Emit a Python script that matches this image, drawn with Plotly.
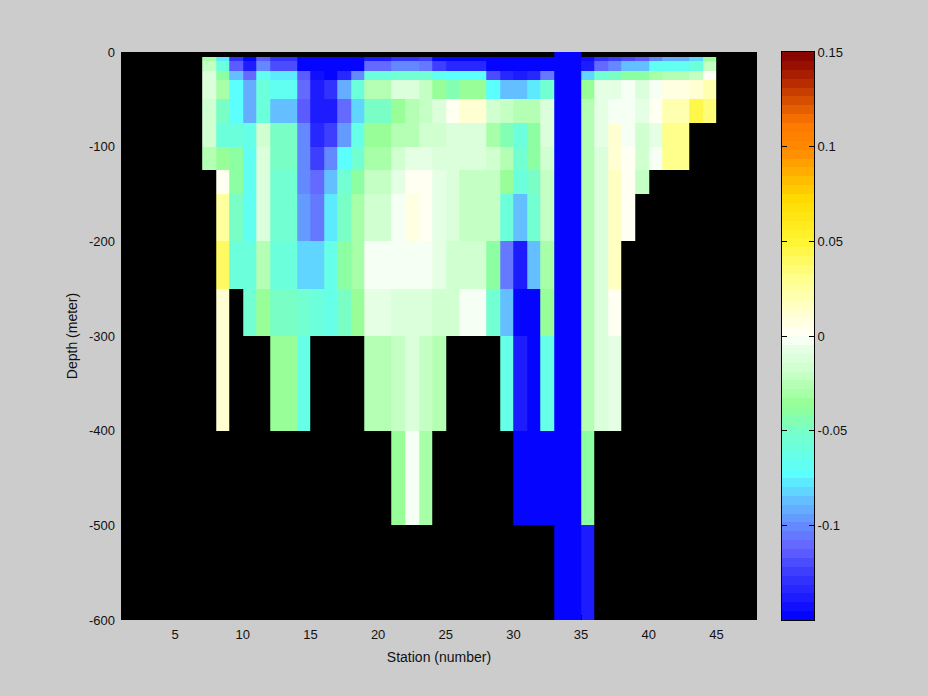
import plotly.graph_objects as go
import numpy as np

N = None
B = -0.15
station_edges = list(range(7, 46))
depth_edges = [0, -5, -10, -20, -30, -50, -75, -100, -125, -150, -200, -250, -300, -400, -500, -600]

# each row: stations 7 .. 44
row_0_5 = [N]*26 + [B, B] + [N]*10
row_5_10 = [-.03,-.078,-.13,-.148,-.115,-.13,-.13,B,B,B,B,B,-.138,-.138,-.13,-.13,-.125,-.148,B,B,B,B,B,B,B,B,B,B,-.145,-.13,-.125,-.118,-.115,-.1,-.09,-.09,-.08,-.036]
row_10_20 = [-.02,-.058,-.115,-.14,-.1,-.12,-.12,B,B,B,B,B,-.11,-.11,-.1,-.1,-.105,-.125,-.135,-.135,-.135,B,B,B,B,B,B,B,-.14,-.11,-.1,-.088,-.088,-.07,-.066,-.066,-.058,-.022]
row_20_30 = [-.01,-.04,-.088,-.11,-.07,-.076,-.076,-.115,-.145,B,-.135,-.1,-.058,-.058,-.052,-.052,-.055,-.07,-.073,-.073,-.073,-.12,-.135,-.14,-.135,-.105,B,B,-.08,-.052,-.048,-.042,-.042,-.03,-.024,-.024,-.02,0]
row_30_50 = [-.01,-.03,-.072,-.09,-.06,-.07,-.07,-.11,-.14,-.128,-.09,-.06,-.028,-.028,-.01,-.01,-.02,-.036,-.045,-.036,-.036,-.072,-.085,-.085,-.077,-.055,B,B,-.033,-.006,-.006,-.002,-.012,-.002,.006,.006,.01,.02]
row_50_75 = [-.015,-.048,-.072,-.09,-.058,-.085,-.085,-.115,-.14,-.14,-.11,-.08,-.048,-.048,-.034,-.025,-.021,-.012,.003,.014,.014,-.017,-.021,-.025,-.025,-.014,B,B,-.024,-.006,-.002,-.002,-.006,.001,.02,.02,.043,.035]
row_75_100 = [-.015,-.06,-.06,-.065,-.018,-.048,-.048,-.1,-.135,-.122,-.097,-.065,-.034,-.034,-.028,-.024,-.016,-.016,-.012,-.012,-.012,-.03,-.043,-.057,-.042,-.012,B,B,-.024,-.006,.01,-.002,-.015,-.006,.03,.03,N,N]
row_100_125 = [-.027,-.033,-.04,-.066,-.01,-.05,-.05,-.1,-.125,-.103,-.073,-.055,-.032,-.032,-.018,-.008,-.008,-.01,-.012,-.01,-.01,-.018,-.028,-.055,-.042,-.018,B,B,-.024,-.012,.012,.002,-.015,-.002,.03,.03,N,N]
row_125_150 = [N,.002,-.04,-.07,-.013,-.055,-.055,-.1,-.11,-.087,-.052,-.04,-.022,-.022,-.005,.002,.001,-.007,-.012,-.02,-.02,-.02,-.036,-.06,-.048,-.02,B,B,-.024,-.012,.016,.002,-.022,N,N,N,N,N]
row_150_200 = [N,.028,-.047,-.07,-.013,-.056,-.056,-.095,-.105,-.077,-.048,-.03,-.016,-.016,-.002,.006,.002,-.007,-.012,-.02,-.02,-.02,-.057,-.085,-.054,-.023,B,B,-.025,-.012,.017,.002,N,N,N,N,N,N]
row_200_250 = [N,.042,-.06,-.06,-.028,-.058,-.058,-.08,-.083,-.065,-.04,-.03,-.002,-.002,-.002,-.002,-.002,-.006,-.016,-.016,-.016,-.04,-.105,-.14,-.085,-.03,B,B,-.025,-.012,.017,N,N,N,N,N,N,N]
row_250_300 = [N,.011,N,-.056,-.036,-.05,-.05,-.053,-.057,-.062,-.05,-.034,-.008,-.008,-.012,-.012,-.012,-.016,-.016,-.002,-.002,-.055,-.085,B,B,-.037,B,B,-.025,-.012,.004,N,N,N,N,N,N,N]
row_300_400 = [N,.011,N,N,N,-.033,-.033,-.063,N,N,N,N,-.028,-.028,-.021,-.012,-.02,-.028,N,N,N,N,-.065,-.14,B,-.065,B,B,-.028,-.012,-.007,N,N,N,N,N,N,N]
row_400_500 = [N]*14 + [-.035,-.002,-.03] + [N]*6 + [B,B,B,B,B,-.042] + [N]*9
row_500_600 = [N]*26 + [B,B,-.14] + [N]*9

cmap_values = [-.15,-.125,-.112,-.1,-.087,-.073,-.05,-.036,-.02,-.007,0,.015,.033,.05,.072,.098,.112,.121,.138,.15]
cmap_r = [0,60,100,100,100,90,120,150,200,230,255,255,255,255,255,255,255,225,170,128]
cmap_g = [0,60,100,140,190,255,255,255,255,255,255,255,255,245,220,140,120,90,30,0]
cmap_b = [255,255,255,255,255,255,200,150,200,230,250,200,130,50,0,0,0,0,0,0]
n_levels = 64
zmin, zmax = -0.15, 0.15
y_ticks = [0, -100, -200, -300, -400, -500, -600]
y_labels = ["0", "-100", "-200", "-300", "-400", "-500", "-600"]
x_ticks = [5, 10, 15, 20, 25, 30, 35, 40, 45]
cbar_ticks = [-0.1, -0.05, 0, 0.05, 0.1, 0.15]
cbar_labels = ["-0.1", "-0.05", "0", "0.05", "0.1", "0.15"]

rows = [row_0_5, row_5_10, row_10_20, row_20_30, row_30_50, row_50_75, row_75_100, row_100_125,
        row_125_150, row_150_200, row_200_250, row_250_300, row_300_400, row_400_500, row_500_600]

level_edges = np.linspace(zmin, zmax, n_levels + 1)
centres = (level_edges[:-1] + level_edges[1:]) / 2
scale = []
for i, v in enumerate(centres):
    c = "rgb(%d,%d,%d)" % (np.interp(v, cmap_values, cmap_r), np.interp(v, cmap_values, cmap_g), np.interp(v, cmap_values, cmap_b))
    scale += [[i / n_levels, c], [(i + 1) / n_levels, c]]

GREY = "#cccccc"
FONT = dict(family="Liberation Sans, Arial, sans-serif", size=12, color="#111111")
TICK_FONT = dict(family="Liberation Sans, Arial, sans-serif", size=13, color="#111111")
W, H = 928, 696

fig = go.Figure()
fig.add_trace(go.Heatmap(x=station_edges, y=depth_edges, z=rows, coloraxis="coloraxis", hoverongaps=False))
fig.add_trace(go.Heatmap(x=[0, 1], y=level_edges.tolist(), z=[[v] for v in centres.tolist()],
                         coloraxis="coloraxis", xaxis="x2", yaxis="y2"))
fig.update_layout(
    width=W, height=H, margin=dict(l=0, r=0, t=0, b=0, autoexpand=False), paper_bgcolor=GREY, plot_bgcolor="black",
    font=FONT, showlegend=False,
    coloraxis=dict(colorscale=scale, cmin=zmin, cmax=zmax, showscale=False),
    xaxis=dict(domain=[121 / W, 757 / W], range=[1, 48], tickvals=x_ticks, ticks="inside", ticklen=5,
               tickcolor="black", showgrid=False, zeroline=False, anchor="y", automargin=False, tickfont=TICK_FONT,
               ticklabelstandoff=5, title=dict(text="Station (number)", standoff=11)),
    yaxis=dict(domain=[(H - 620) / H, (H - 52) / H], range=[-600, 0], tickvals=y_ticks, ticktext=y_labels,
               ticks="inside", ticklen=5, tickcolor="black", showgrid=False, zeroline=False, anchor="x",
               automargin=False, ticklabelstandoff=5, tickfont=TICK_FONT, title=dict(text="Depth (meter)", standoff=8)),
    xaxis2=dict(domain=[782 / W, 814 / W], range=[0, 1], showticklabels=False, ticks="", showgrid=False,
                zeroline=False, showline=True, linecolor="black", linewidth=1, mirror=True, anchor="y2"),
    yaxis2=dict(domain=[(H - 620) / H, (H - 52) / H], range=[zmin, zmax], side="right", tickvals=cbar_ticks,
                ticktext=cbar_labels, ticks="inside", ticklen=5, tickcolor="black", showgrid=False, zeroline=False,
                tickfont=TICK_FONT, showline=True, linecolor="black", linewidth=1, mirror="ticks", anchor="x2"),
)
fig.write_html("out.html", config=dict(displayModeBar=False),
               post_script="document.body.style.margin='0';document.body.style.background='#cccccc';document.body.style.overflow='hidden';")
